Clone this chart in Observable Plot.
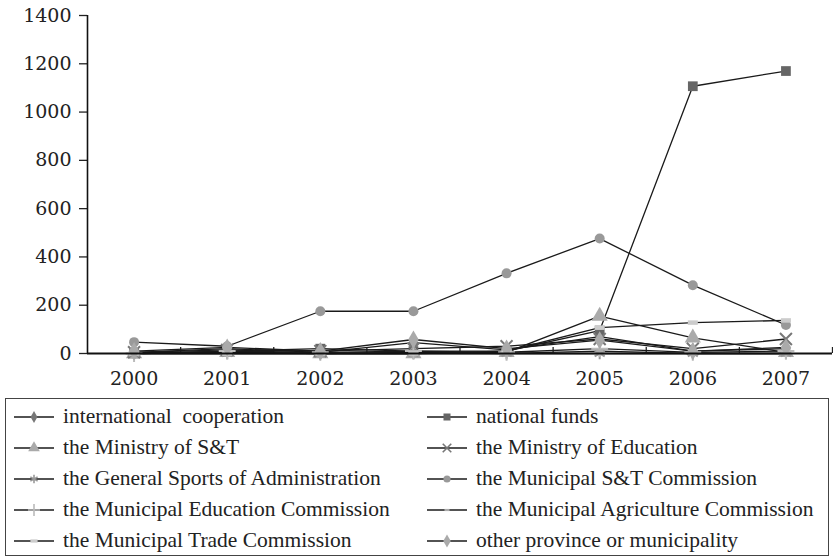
<!DOCTYPE html>
<html><head><meta charset="utf-8">
<script src="https://cdn.jsdelivr.net/npm/d3@7"></script>
<script src="https://cdn.jsdelivr.net/npm/@observablehq/plot@0.6"></script>
<style>
body{margin:0;background:#fff;}
#chart{position:absolute;left:0;top:0;}
#legend{position:absolute;left:5px;top:398px;width:824px;height:158px;border:1.5px solid #444;box-sizing:border-box;padding-top:2px;}
.row{display:flex;height:31px;align-items:center;}
.item{display:flex;align-items:center;font-size:21.5px;color:#222;white-space:pre;font-family:"Liberation Serif";}
.item svg{display:block;}
</style></head>
<body><div id="chart"></div><div id="legend"></div>
<script>
const years = [2000, 2001, 2002, 2003, 2004, 2005, 2006, 2007];
const seriesNames = [
  "international  cooperation", "national funds",
  "the Ministry of S&T", "the Ministry of Education",
  "the General Sports of Administration", "the Municipal S&T Commission",
  "the Municipal Education Commission", "the Municipal Agriculture Commission",
  "the Municipal Trade Commission", "other province or municipality"
];
const internationalCooperation = [5, 20, 5, 45, 15, 70, 10, 20];
const nationalFunds = [0, 10, 20, 10, 10, 95, 1107, 1170];
const ministryOfST = [0, 5, 0, 0, 5, 155, 65, 5];
const ministryOfEducation = [5, 15, 10, 20, 30, 60, 20, 60];
const generalSports = [0, 0, 0, 0, 0, 0, 0, 0];
const municipalST = [47, 30, 175, 175, 332, 476, 283, 118];
const municipalEducation = [0, 10, 5, 10, 5, 20, 5, 10];
const municipalAgriculture = [0, 5, 0, 5, 0, 10, 0, 0];
const municipalTrade = [0, 0, 0, 0, 10, 107, 128, 137];
const otherProvince = [10, 25, 10, 58, 20, 55, 10, 25];
const yTicks = [0, 200, 400, 600, 800, 1000, 1200, 1400];

const seriesValues = [internationalCooperation, nationalFunds, ministryOfST, ministryOfEducation,
  generalSports, municipalST, municipalEducation, municipalAgriculture, municipalTrade, otherProvince];

const rectSym = (wr, hr) => ({draw(ctx, size){const r = Math.sqrt(size / Math.PI); ctx.rect(-r*wr, -r*hr, 2*r*wr, 2*r*hr);}});
const styles = [
  {symbol: d3.symbolDiamond, fill: "#777", r: 5},
  {symbol: d3.symbolSquare, fill: "#666", r: 5.5},
  {symbol: d3.symbolTriangle, fill: "#aaa", r: 6},
  {symbol: d3.symbolTimes, stroke: "#777", r: 5.5},
  {symbol: d3.symbolAsterisk, stroke: "#999", r: 5.5},
  {symbol: d3.symbolCircle, fill: "#999", r: 5},
  {symbol: d3.symbolPlus, stroke: "#bbb", r: 5.5},
  {symbol: rectSym(0.7, 0.3), fill: "#aaa", r: 5},
  {symbol: rectSym(1.0, 0.45), fill: "#ccc", r: 5},
  {symbol: d3.symbolDiamond, fill: "#aaa", r: 5.5}
];

const rows = [];
seriesNames.forEach((s, i) => years.forEach((y, j) => rows.push({series: s, year: y, value: seriesValues[i][j]})));

const boundaries = years.slice(1).map(y => y - 0.5).concat([years[years.length - 1] + 0.5]);

const dotMarks = seriesNames.map((s, i) => {
  const st = styles[i];
  const o = {x: "year", y: "value", symbol: st.symbol, r: st.r};
  if (st.fill) o.fill = st.fill; else { o.stroke = st.stroke; o.strokeWidth = 2; o.fill = "none"; }
  return Plot.dot(rows.filter(d => d.series === s), o);
});

const chart = Plot.plot({
  width: 833, height: 398,
  marginLeft: 87, marginRight: 1, marginTop: 15, marginBottom: 45,
  style: {fontFamily: "DejaVu Serif", fontSize: "19px", color: "#222", background: "#fff"},
  x: {domain: [years[0] - 0.5, years[years.length - 1] + 0.5]},
  y: {domain: [0, 1400]},
  marks: [
    Plot.axisY({ticks: yTicks, tickSize: 8, tickPadding: 8, tickFormat: d3.format("d"), label: null, fontSize: 19, strokeWidth: 1.3}),
    Plot.axisX({ticks: years, tickSize: 0, tickPadding: 18, tickFormat: d => String(d), label: null, fontSize: 19}),
    Plot.axisX({ticks: boundaries, tickSize: 6, dy: -6, tickFormat: () => "", label: null, strokeWidth: 1.3}),
    Plot.line(rows, {x: "year", y: "value", z: "series", stroke: "#1a1a1a", strokeWidth: 1.3}),
    ...dotMarks,
    Plot.ruleY([0], {stroke: "#111", strokeWidth: 2}),
    Plot.ruleX([years[0] - 0.5], {stroke: "#111", strokeWidth: 1.6})
  ]
});
document.getElementById("chart").append(chart);

// legend
const legend = d3.select("#legend");
const colX = [[8, 40, 9], [421, 40, 9]]; // [marker start, marker width, gap]
for (let r = 0; r < 5; r++) {
  const row = legend.append("div").attr("class", "row");
  for (let c = 0; c < 2; c++) {
    const i = r * 2 + c;
    const st = styles[i];
    const item = row.append("div").attr("class", "item")
      .style("position", "absolute").style("left", colX[c][0] + "px");
    const svg = item.append("svg").attr("width", colX[c][1]).attr("height", 20);
    svg.append("line").attr("x1", 0).attr("x2", colX[c][1]).attr("y1", 10).attr("y2", 10)
      .attr("stroke", "#1a1a1a").attr("stroke-width", 1.3);
    const lr = st.r * 0.72;
    svg.append("path").attr("transform", `translate(${colX[c][1] / 2},10)`)
      .attr("d", d3.symbol(st.symbol, Math.PI * lr * lr)())
      .attr("fill", st.fill || "none").attr("stroke", st.stroke || "none").attr("stroke-width", 1.6);
    item.append("span").style("margin-left", colX[c][2] + "px").text(seriesNames[i]);
  }
}
</script>
</body></html>
